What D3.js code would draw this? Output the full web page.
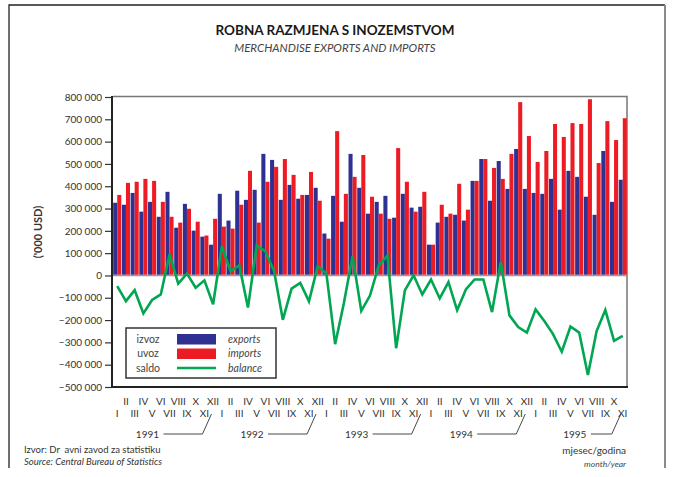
<!DOCTYPE html>
<html>
<head>
<meta charset="utf-8">
<script src="https://cdn.jsdelivr.net/npm/d3@7"></script>
<style>
  body { margin: 0; background: #fff; }
  svg text { font-family: Lato, "Open Sans", sans-serif; }
</style>
</head>
<body>
<div id="chart"></div>
<script>
const years = [1991, 1992, 1993, 1994, 1995];
const monthNames = ["I", "II", "III", "IV", "V", "VI", "VII", "VIII", "IX", "X", "XI", "XII"];
const monthsPerYear = [12, 12, 12, 12, 11];

// izvoz / exports ('000 USD)
const exportsData = [
  326, 317, 370, 286, 330, 263, 375, 214, 321, 201, 174, 138,
  366, 246, 380, 339, 384, 545, 518, 339, 406, 344, 361, 393,
  188, 357, 241, 545, 393, 277, 330, 357, 259, 366, 304, 308,
  138, 237, 263, 272, 246, 424, 522, 335, 513, 388, 567, 388,
  370, 366, 433, 295, 469, 442, 353, 272, 558, 330, 429
].map(d => d * 1000);

// uvoz / imports
const importsData = [
  361, 415, 420, 433, 424, 330, 263, 237, 299, 241, 179, 254,
  219, 210, 317, 469, 237, 420, 487, 522, 451, 361, 464, 335,
  165, 647, 366, 442, 540, 353, 277, 254, 571, 420, 286, 375,
  138, 317, 277, 411, 295, 424, 522, 482, 433, 545, 777, 625,
  509, 558, 679, 621, 683, 679, 790, 504, 692, 607, 705
].map(d => d * 1000);

// saldo / balance
const balanceData = [
  -48, -115, -66, -170, -110, -85, 94, -37, 8, -55, -22, -129,
  131, 19, 46, -144, 134, 108, 19, -199, -59, -33, -116, 42,
  8, -308, -125, 86, -159, -90, 45, 89, -326, -67, 1, -85,
  -18, -103, -30, -156, -63, -18, -18, -164, 61, -179, -231, -256,
  -152, -204, -263, -342, -229, -256, -446, -249, -155, -293, -271
].map(d => d * 1000);

const yTicks = [800000, 700000, 600000, 500000, 400000, 300000, 200000, 100000, 0,
  -100000, -200000, -300000, -400000, -500000];

// month records
const months = [];
years.forEach((y, yi) => {
  for (let m = 0; m < monthsPerYear[yi]; m++) {
    months.push({ year: y, m: m, i: months.length });
  }
});
months.forEach((d, i) => {
  d.exp = exportsData[i];
  d.imp = importsData[i];
  d.bal = balanceData[i];
});

const W = 673, H = 477;
const margin = { left: 113, right: 46, top: 97, bottom: 90 };

const svg = d3.select("#chart").append("svg")
  .attr("width", W)
  .attr("height", H);

// page frame
svg.append("path")
  .attr("d", "M9,468 L9,5 L665,5")
  .attr("fill", "none")
  .attr("stroke", "#222")
  .attr("stroke-width", 1.3);
svg.append("line")
  .attr("x1", 665).attr("x2", 665).attr("y1", 5).attr("y2", 468)
  .attr("stroke", "#8a8a8a")
  .attr("stroke-width", 2);

// titles
svg.append("text")
  .attr("x", 335).attr("y", 35)
  .attr("text-anchor", "middle")
  .attr("font-size", 13.5)
  .attr("font-weight", "bold")
  .attr("fill", "#1a1a1a")
  .text("ROBNA RAZMJENA S INOZEMSTVOM");
svg.append("text")
  .attr("x", 335).attr("y", 52)
  .attr("text-anchor", "middle")
  .attr("font-size", 11.5)
  .attr("font-style", "italic")
  .attr("fill", "#444")
  .text("MERCHANDISE EXPORTS AND IMPORTS");

const x = d3.scaleBand()
  .domain(months.map(d => d.i))
  .range([margin.left, W - margin.right])
  .paddingInner(0.07)
  .paddingOuter(0.02);

const y = d3.scaleLinear()
  .domain([-500000, 800000])
  .range([H - margin.bottom, margin.top]);

const half = x.bandwidth() / 2;
const fmt = v => d3.format(",")(v).replace(/,/g, " ");

// plot box: light top/right edges
svg.append("path")
  .attr("d", `M${margin.left},${margin.top - 0.5} L${W - margin.right},${margin.top - 0.5} L${W - margin.right},${H - margin.bottom}`)
  .attr("fill", "none")
  .attr("stroke", "#777")
  .attr("stroke-width", 1.5);

// zero line
svg.append("line")
  .attr("x1", margin.left).attr("x2", W - margin.right)
  .attr("y1", y(0)).attr("y2", y(0))
  .attr("stroke", "#999")
  .attr("stroke-width", 1.5);

// bars
svg.append("g").selectAll("rect")
  .data(months)
  .enter().append("rect")
  .attr("x", d => x(d.i))
  .attr("y", d => y(d.exp))
  .attr("width", half)
  .attr("height", d => y(0) - y(d.exp) - 0.75)
  .attr("fill", "#2e3192");

svg.append("g").selectAll("rect")
  .data(months)
  .enter().append("rect")
  .attr("x", d => x(d.i) + half)
  .attr("y", d => y(d.imp))
  .attr("width", half)
  .attr("height", d => y(0) - y(d.imp) - 0.75)
  .attr("fill", "#ed1c24");

// balance line
const line = d3.line()
  .x(d => x(d.i) + half)
  .y(d => y(d.bal));

svg.append("path")
  .datum(months)
  .attr("d", line)
  .attr("fill", "none")
  .attr("stroke", "#00a651")
  .attr("stroke-width", 2.6)
  .attr("stroke-linejoin", "miter");

// y axis
const yAxis = d3.axisLeft(y)
  .tickValues(yTicks)
  .tickSize(7)
  .tickPadding(3)
  .tickFormat(fmt);

const gy = svg.append("g")
  .attr("transform", `translate(${margin.left - 1},0)`)
  .call(yAxis);
gy.select(".domain").remove();
gy.selectAll(".tick line").attr("stroke", "#333").attr("stroke-width", 1.2);
gy.selectAll(".tick text")
  .attr("font-size", 10)
  .attr("fill", "#333")
  .attr("font-family", "Lato, 'Open Sans', sans-serif");

// dark left + bottom edges of the plot box
svg.append("path")
  .attr("d", `M${margin.left - 1},${margin.top - 1} L${margin.left - 1},${H - margin.bottom} L${W - margin.right + 1},${H - margin.bottom}`)
  .attr("fill", "none")
  .attr("stroke", "#222")
  .attr("stroke-width", 2);

svg.append("text")
  .attr("transform", `translate(42,${(margin.top + H - margin.bottom) / 2 - 10}) rotate(-90)`)
  .attr("text-anchor", "middle")
  .attr("font-size", 11)
  .attr("font-weight", "bold")
  .attr("fill", "#333")
  .text("('000 USD)");

// month labels (odd months low row, even months upper row)
svg.append("g").selectAll("text")
  .data(months)
  .enter().append("text")
  .attr("x", d => x(d.i) + x.bandwidth() / 2)
  .attr("y", d => d.m % 2 === 0 ? 417 : 405)
  .attr("text-anchor", "middle")
  .attr("font-size", 10)
  .attr("fill", "#333")
  .text(d => monthNames[d.m]);

// year labels with connector to year end
let start = 0;
years.forEach((yr, yi) => {
  const n = monthsPerYear[yi];
  const end = start + n - 1;
  const bx = yi < years.length - 1
    ? (x(end) + x.bandwidth() + x(end + 1)) / 2
    : x(end) + x.bandwidth();
  const lx = bx - 70 + (12 - n) * 18;
  svg.append("text")
    .attr("x", lx).attr("y", 438)
    .attr("text-anchor", "middle")
    .attr("font-size", 10)
    .attr("fill", "#333")
    .text(yr);
  svg.append("path")
    .attr("d", `M${lx + 16},434 L${bx - 15},434 L${bx - 6},414`)
    .attr("fill", "none")
    .attr("stroke", "#333")
    .attr("stroke-width", 0.9);
  start += n;
});

svg.append("text")
  .attr("x", 626).attr("y", 454)
  .attr("text-anchor", "end")
  .attr("font-size", 10)
  .attr("fill", "#333")
  .text("mjesec/godina");
svg.append("text")
  .attr("x", 626).attr("y", 467)
  .attr("text-anchor", "end")
  .attr("font-size", 8.5)
  .attr("font-style", "italic")
  .attr("fill", "#444")
  .text("month/year");

// source
svg.append("text")
  .attr("x", 24).attr("y", 453)
  .attr("font-size", 9.5)
  .attr("fill", "#333")
  .style("white-space", "pre")
  .text("Izvor: Dr  avni zavod za statistiku");
svg.append("text")
  .attr("x", 24).attr("y", 465)
  .attr("font-size", 9.5)
  .attr("font-style", "italic")
  .attr("fill", "#333")
  .text("Source: Central Bureau of Statistics");

// legend
const legendItems = [
  { hr: "izvoz", en: "exports", color: "#2e3192", type: "rect" },
  { hr: "uvoz", en: "imports", color: "#ed1c24", type: "rect" },
  { hr: "saldo", en: "balance", color: "#00a651", type: "line" }
];
const lg = svg.append("g").attr("transform", "translate(126,328)");
lg.append("rect")
  .attr("width", 150).attr("height", 50)
  .attr("fill", "#fff")
  .attr("stroke", "#333")
  .attr("stroke-width", 1.5);
legendItems.forEach((d, i) => {
  const cy = 11 + i * 14.5;
  lg.append("text")
    .attr("x", 22).attr("y", cy + 3.5)
    .attr("text-anchor", "middle")
    .attr("font-size", 10.5)
    .attr("fill", "#444")
    .text(d.hr);
  if (d.type === "rect") {
    lg.append("rect")
      .attr("x", 51).attr("y", cy - 5)
      .attr("width", 39).attr("height", 10.5)
      .attr("fill", d.color);
  } else {
    lg.append("line")
      .attr("x1", 51).attr("x2", 90)
      .attr("y1", cy).attr("y2", cy)
      .attr("stroke", d.color)
      .attr("stroke-width", 2.5);
  }
  lg.append("text")
    .attr("x", 102).attr("y", cy + 3.5)
    .attr("font-size", 10.5)
    .attr("font-style", "italic")
    .attr("fill", "#444")
    .text(d.en);
});
</script>
</body>
</html>
